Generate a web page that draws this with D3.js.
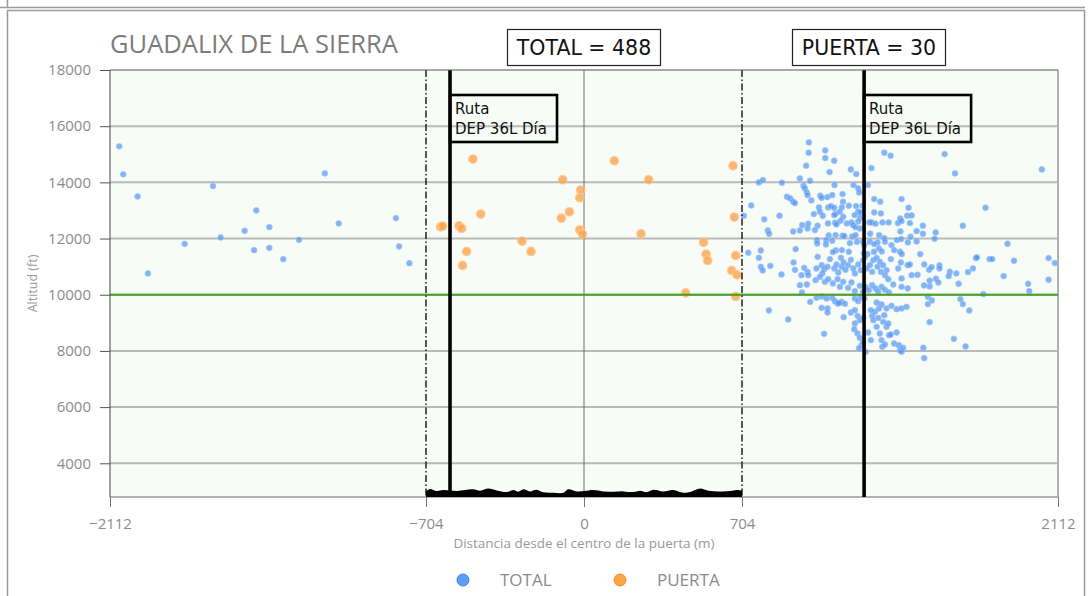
<!DOCTYPE html>
<html>
<head>
<meta charset="utf-8">
<script src="https://cdn.jsdelivr.net/npm/d3@7"></script>
<style>
  html, body { margin: 0; padding: 0; background: #fff; }
  svg { display: block; font-family: "Open Sans", sans-serif; }
</style>
</head>
<body>
<svg id="chart" width="1091" height="596"></svg>
<script>
// ---- data: distance from gate centre (m), altitude (ft) ----
const chartTitle = "GUADALIX DE LA SIERRA";
const totalCount = 488;
const gateCount = 30;
const legendLabels = ["TOTAL", "PUERTA"];
const routeLabel = ["Ruta", "DEP 36L Día"];
const xTicks = [-2112, -704, 0, 704, 2112];
const yTicks = [4000, 6000, 8000, 10000, 12000, 14000, 16000, 18000];
const gateEdges = [-704, 704];
const routeLines = [-597, 1248];
const refAltitude = 10000;

// tracks outside the gate
const totalPoints = [
  [-2071,15282],[-2053,14285],[-1989,13501],[-1653,13868],[-1155,14320],[-1460,13002],[-1512,12276],
  [-1402,12408],[-1619,12041],[-1779,11813],[-1470,11588],[-1402,11670],[-1340,11268],[-1270,11955],
  [-1093,12539],[-838,12728],[-824,11720],[-778,11125],[-1943,10758],
  [1002,15424],[1001,15056],[1075,15139],[1075,14866],[1115,14771],[990,14593],[1094,14367],[1189,14462],
  [1213,14296],[1281,14510],[1338,15056],[1366,14949],[962,14142],[779,13999],[797,14083],[882,13988],
  [1007,14059],[978,13881],[1116,13905],[1201,13905],[1265,13905],[1222,13786],[984,13786],[993,13643],
  [996,13548],[1226,13643],[904,13489],[919,13430],[932,13311],[940,13264],[1013,13358],[1053,13525],
  [1059,13453],[1084,13477],[1106,13548],[1152,13584],[1154,13311],[1293,13406],[1320,13311],[1415,13406],
  [745,13180],[1047,13109],[1088,13109],[1100,13157],[1115,13097],[1149,13109],[1180,13169],[1212,13157],
  [1241,13169],[1446,13097],[1051,12955],[1024,12872],[1064,12812],[1121,12884],[1115,12836],[1140,12955],
  [1155,12777],[1222,12955],[1206,12836],[1232,12931],[871,12812],[1293,12931],[1323,12896],[1440,12812],
  [1460,12824],[1409,12717],[1231,12741],[712,12812],[803,12682],[972,12480],[999,12528],[1041,12456],
  [1087,12539],[1119,12563],[1125,12504],[1143,12634],[1171,12539],[1192,12575],[1198,12480],[1222,12611],
  [1271,12575],[1281,12575],[1299,12528],[1330,12575],[1357,12575],[1399,12551],[1415,12623],[1452,12551],
  [819,12290],[825,12171],[962,12290],[996,12361],[932,12255],[1029,12302],[1229,12361],[1209,12409],
  [1410,12255],[1090,12112],[1121,12124],[1152,12100],[1160,12088],[1195,12076],[1210,12124],[1275,12171],
  [1315,12124],[1455,12065],[1338,12017],[1394,11946],[1413,11981],[1038,11946],[1079,11946],[1106,11922],
  [1039,11827],[1078,11792],[1185,11839],[1216,11887],[1243,11887],[1274,11887],[1308,11863],[1341,11887],
  [1443,11863],[1249,11768],[1293,11804],[1370,11768],[943,11625],[1122,11578],[1149,11590],[1314,11649],
  [1382,11590],[732,11495],[788,11578],[1109,11519],[1180,11530],[1247,11471],[1263,11447],[1292,11530],
  [1327,11542],[1408,11530],[1416,11447],
  [779,11315],[788,10995],[796,10864],[830,11030],[880,10722],[934,11149],[940,10888],[969,10698],
  [981,10959],[996,10816],[999,10698],[1036,10935],[1041,11351],[1059,11054],[1070,10911],[1085,10995],
  [1062,10757],[1096,11268],[1115,10935],[1125,11078],[1133,10793],[1145,11315],[1148,10995],[1157,11149],
  [1165,10888],[1177,11054],[1189,11244],[1200,10935],[1207,10757],[1222,11078],[1234,10876],[1244,11232],
  [1252,11351],[1259,10935],[1274,11054],[1284,10816],[1289,11232],[1304,11315],[1308,10995],[1318,11173],
  [1323,10816],[1333,11054],[1341,10698],[1348,10876],[1356,10555],[1367,11268],[1400,10935],[1412,11149],
  [1415,10579],[1442,11054],[1452,11078],[1460,10698],
  [962,10342],[993,10365],[1032,10520],[1051,10638],[1073,10460],[1088,10555],[1109,10401],[1130,10555],
  [1140,10282],[1155,10460],[1177,10247],[1192,10437],[1207,10128],[1229,10318],[1244,10104],[1255,10270],
  [1269,10164],[1284,10342],[1299,10223],[1311,10104],[1326,10282],[1341,10176],[1359,10081],[1378,10365],
  [1415,10282],[1442,10223],[971,10081],[1008,9748],[1036,9891],[1059,9938],[1081,9867],[1106,9891],
  [1118,9772],[1130,9689],[1148,9748],[1163,9677],[1207,9867],[1222,9772],[1234,9926],[1249,9867],
  [824,9440],[910,9119],[1059,9535],[1085,9511],[1085,9368],[1136,9701],[1157,9202],[1189,9368],
  [1207,9451],[1219,9250],[1229,9095],[1244,9178],[1207,8977],[1204,8775],[1219,8621],[1229,8466],
  [1237,8205],[1244,8300],[1225,8086],[1255,7968],[1266,8656],[1278,8383],[1284,9250],[1289,9095],
  [1296,9392],[1304,8858],[1311,9178],[1314,9511],[1318,8621],[1326,8383],[1329,8146],[1333,9036],
  [1338,9273],[1341,8229],[1348,8858],[1356,8977],[1359,8561],[1367,8585],[1382,8264],[1393,8656],
  [1403,8205],[1408,8027],[1415,7968],[1422,8110],[1070,8609],[1278,9451],[1304,9724],[1326,9653],
  [1348,9511],[1370,9606],[1393,9487],[1415,9511],[1437,9570],
  [1607,15008],[1653,14320],[2040,14462],[1789,13097],[1510,12456],[1688,12456],[1482,12266],[1510,12171],
  [1567,12219],[1562,11993],[1482,11898],[1887,11815],[1498,11447],[1516,11079],[1538,10890],[1549,10984],
  [1584,11044],[1584,10937],[1746,11305],[1751,11329],[1807,11269],[1819,11269],[1916,11210],[2070,11305],
  [2098,11127],[1486,10711],[1540,10498],[1568,10569],[1579,10438],[1630,10818],[1625,10664],[1659,10759],
  [1711,10806],[1733,10937],[1870,10664],[1515,10332],[1540,10296],[1669,10391],[1979,10391],[2070,10533],
  [1532,9928],[1550,9797],[1677,9845],[1688,9667],[1717,9441],[1779,10023],[1984,10130],[1532,9667],
  [1540,9026],[1648,8432],[1700,8159],[1512,8112],[1516,7744]
];

// tracks crossing the gate
const gatePoints = [
  [-495,14830],[-639,12419],[-630,12444],[-557,12454],[-545,12361],[-460,12871],[-523,11542],[-541,11043],
  [-276,11909],[-236,11542],[-95,14093],[-15,13726],[-19,13451],[-65,12953],[-101,12728],[-19,12311],
  [-7,12158],[135,14770],[288,14093],[254,12169],[664,14591],[670,12764],[533,11863],[544,11446],
  [551,11221],[676,11399],[658,10865],[682,10709],[453,10067],[676,9939]
];

// terrain profile across the gate (distance m, top altitude ft)
const groundProfile = [
  [-704,3000],[-686,3085],[-656,3010],[-627,3045],[-567,3010],[-530,3045],[-493,3075],[-463,3025],
  [-426,3100],[-389,3035],[-344,2975],[-315,3050],[-293,2990],[-270,3075],[-241,3000],[-211,3060],
  [-181,2965],[-137,2950],[-92,2950],[-70,3075],[-33,3000],[4,3015],[41,3050],[86,3000],[131,2990],
  [175,3000],[220,2975],[250,3025],[279,2975],[309,3060],[353,3000],[398,3050],[442,2950],[480,3000],
  [517,3100],[554,3025],[606,3000],[651,3015],[680,3050],[704,3025]
];
const yFloor = 2800;

// ---- layout ----
const svg = d3.select("#chart");
const plot = { left: 110, right: 1058, top: 70, bottom: 497 };

const x = d3.scaleLinear().domain([-2112, 2112]).range([plot.left, plot.right]);
const y = d3.scaleLinear().domain([yFloor, 18000]).range([plot.bottom, plot.top]);

// notebook output frame
svg.append("line").attr("x1", 0).attr("x2", 1085).attr("y1", 7.5).attr("y2", 7.5)
  .attr("stroke", "#9a9a9a").attr("stroke-width", 1.5);
svg.append("line").attr("x1", 7.5).attr("x2", 7.5).attr("y1", 0).attr("y2", 7.5)
  .attr("stroke", "#9a9a9a").attr("stroke-width", 1.5);
svg.append("rect").attr("x", 7.5).attr("y", 10.5).attr("width", 1077).attr("height", 620)
  .attr("fill", "none").attr("stroke", "#9a9a9a").attr("stroke-width", 1.5);

// plot background
svg.append("rect")
  .attr("x", plot.left).attr("y", plot.top)
  .attr("width", plot.right - plot.left).attr("height", plot.bottom - plot.top)
  .attr("fill", "#f7fcf7");

// horizontal grid
svg.append("g").selectAll("line")
  .data(yTicks.filter(d => d < 18000))
  .join("line")
  .attr("x1", plot.left).attr("x2", plot.right)
  .attr("y1", d => y(d)).attr("y2", d => y(d))
  .attr("stroke", "#b9b9b9").attr("stroke-width", 2);

// bottom and right borders
svg.append("line").attr("x1", plot.left).attr("x2", plot.right)
  .attr("y1", plot.bottom).attr("y2", plot.bottom)
  .attr("stroke", "#b0b0b0").attr("stroke-width", 2);
svg.append("line").attr("x1", plot.right).attr("x2", plot.right)
  .attr("y1", plot.top).attr("y2", plot.bottom)
  .attr("stroke", "#b0b0b0").attr("stroke-width", 2);

// gate centre
svg.append("line").attr("x1", x(0)).attr("x2", x(0))
  .attr("y1", plot.top).attr("y2", plot.bottom)
  .attr("stroke", "#6e6e6e").attr("stroke-width", 1);

// scatter
svg.append("g").selectAll("circle")
  .data(totalPoints)
  .join("circle")
  .attr("cx", d => x(d[0])).attr("cy", d => y(d[1])).attr("r", 2.9)
  .attr("fill", "#4b92f4").attr("fill-opacity", 0.68)
  .attr("stroke", "#9cc4fa").attr("stroke-opacity", 0.7).attr("stroke-width", 1);

svg.append("g").selectAll("circle")
  .data(gatePoints)
  .join("circle")
  .attr("cx", d => x(d[0])).attr("cy", d => y(d[1])).attr("r", 4.3)
  .attr("fill", "#ffa24a").attr("fill-opacity", 0.78)
  .attr("stroke", "#ffc891").attr("stroke-opacity", 0.8).attr("stroke-width", 1.2);

// reference altitude
svg.append("line").attr("x1", plot.left).attr("x2", plot.right)
  .attr("y1", y(refAltitude)).attr("y2", y(refAltitude))
  .attr("stroke", "#46a021").attr("stroke-width", 2);

// gate limits
svg.append("g").selectAll("line")
  .data(gateEdges)
  .join("line")
  .attr("x1", d => x(d)).attr("x2", d => x(d))
  .attr("y1", plot.top).attr("y2", plot.bottom)
  .attr("stroke", "#111").attr("stroke-width", 1.4)
  .attr("stroke-dasharray", "7,2.5,1.5,2.5");

// route centre lines
svg.append("g").selectAll("line")
  .data(routeLines)
  .join("line")
  .attr("x1", d => x(d)).attr("x2", d => x(d))
  .attr("y1", plot.top).attr("y2", plot.bottom)
  .attr("stroke", "#000").attr("stroke-width", 3.6);

// terrain under the gate
svg.append("path")
  .datum(groundProfile)
  .attr("d", d3.area()
    .x(d => x(d[0]))
    .y0(y(yFloor))
    .y1(d => y(d[1]))
    .curve(d3.curveCatmullRom))
  .attr("fill", "#000");

// axes
const yAxis = svg.append("g")
  .attr("transform", `translate(${plot.left},0)`)
  .call(d3.axisLeft(y).tickValues(yTicks).tickSize(10).tickPadding(9).tickFormat(d3.format("d")));
yAxis.select(".domain").attr("stroke", "#444").attr("d", `M0,${plot.top}V${plot.bottom}`);
yAxis.selectAll(".tick line").attr("stroke", "#555");
yAxis.selectAll(".tick text")
  .attr("fill", "#8c8c8c").style("font-family", "'Open Sans', sans-serif").style("font-size", "15px");

svg.append("line").attr("x1", plot.left).attr("x2", plot.right)
  .attr("y1", plot.top).attr("y2", plot.top)
  .attr("stroke", "#555").attr("stroke-width", 1);

const xAxis = svg.append("g")
  .attr("transform", `translate(0,${plot.bottom})`)
  .call(d3.axisBottom(x).tickValues(xTicks).tickSize(10).tickPadding(11)
    .tickFormat(d => d < 0 ? "\u2212" + Math.abs(d) : String(d)));
xAxis.select(".domain").remove();
xAxis.selectAll(".tick line").attr("stroke", "#777");
xAxis.selectAll(".tick text")
  .attr("fill", "#8c8c8c").style("font-family", "'Open Sans', sans-serif").style("font-size", "15px");

svg.append("text")
  .attr("x", x(0)).attr("y", 548)
  .attr("text-anchor", "middle")
  .attr("fill", "#9a9a9a").style("font-size", "13.5px")
  .text("Distancia desde el centro de la puerta (m)");

svg.append("text")
  .attr("transform", `translate(37,${(plot.top + plot.bottom) / 2}) rotate(-90)`)
  .attr("text-anchor", "middle")
  .attr("fill", "#9a9a9a").style("font-size", "12.5px")
  .text("Altitud (ft)");

// title
svg.append("text")
  .attr("x", plot.left).attr("y", 53)
  .attr("fill", "#7c7c7c").style("font-size", "25.5px")
  .text(chartTitle);

// count boxes
const countBoxes = [
  { label: `${legendLabels[0]} = ${totalCount}`, cx: 584 },
  { label: `${legendLabels[1]} = ${gateCount}`, cx: 869 }
];
const cb = svg.append("g").selectAll("g").data(countBoxes).join("g");
cb.append("rect")
  .attr("x", d => d.cx - 76.5).attr("y", 29.5).attr("width", 153).attr("height", 36)
  .attr("fill", "#fff").attr("stroke", "#222").attr("stroke-width", 1.2);
cb.append("text")
  .attr("x", d => d.cx).attr("y", 55)
  .attr("text-anchor", "middle")
  .style("font-family", "'DejaVu Sans', sans-serif").style("font-size", "20.5px")
  .attr("fill", "#111")
  .text(d => d.label);

// route label boxes
const rb = svg.append("g").selectAll("g").data(routeLines).join("g")
  .attr("transform", d => `translate(${x(d)},0)`);
rb.append("rect")
  .attr("x", 0).attr("y", 95).attr("width", 107).attr("height", 47)
  .attr("fill", "none").attr("stroke", "#000").attr("stroke-width", 2.6);
rb.each(function () {
  const t = d3.select(this).append("text")
    .style("font-family", "'DejaVu Sans', sans-serif").style("font-size", "15px")
    .attr("fill", "#111");
  routeLabel.forEach((line, i) => {
    t.append("tspan").attr("x", 5).attr("y", 114 + i * 19.5).text(line);
  });
});

// legend
const legend = [
  { label: legendLabels[0], fill: "#5a9ff7", stroke: "#3f84e2", cx: 463 },
  { label: legendLabels[1], fill: "#ffa748", stroke: "#ef8a22", cx: 620 }
];
const lg = svg.append("g").selectAll("g").data(legend).join("g");
lg.append("circle")
  .attr("cx", d => d.cx).attr("cy", 580).attr("r", 6)
  .attr("fill", d => d.fill).attr("stroke", d => d.stroke).attr("stroke-width", 1);
lg.append("text")
  .attr("x", d => d.cx + 37).attr("y", 586)
  .attr("fill", "#8a8a8a").style("font-size", "17px")
  .text(d => d.label);
</script>
</body>
</html>
